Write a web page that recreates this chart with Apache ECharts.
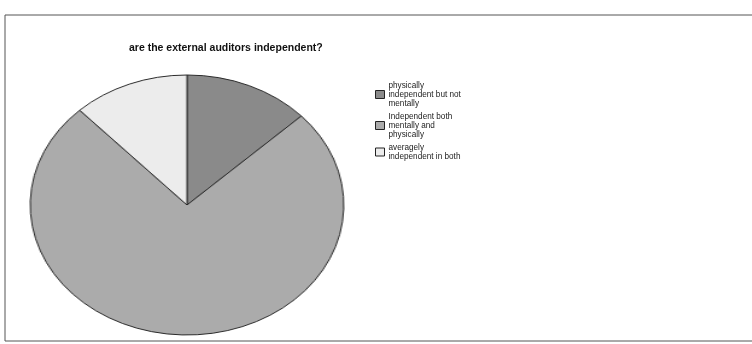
<!DOCTYPE html>
<html>
<head>
<meta charset="utf-8">
<script src="https://cdn.jsdelivr.net/npm/echarts@6/dist/echarts.min.js"></script>
<style>
html,body{margin:0;padding:0;background:#fff;}
#wrap{position:relative;width:752px;height:344px;overflow:hidden;}
#pie{position:absolute;left:56px;top:74px;width:262px;height:262px;transform:scaleX(1.206);transform-origin:50% 50%;}
#main{position:absolute;left:0;top:0;width:752px;height:344px;}
</style>
</head>
<body>
<div id="wrap">
<div id="main"></div>
<div id="pie"></div>
</div>
<script>
const titleText = 'are the external auditors independent?';
const categories = [
  'physically\nindependent but not\nmentally',
  'Independent both\nmentally and\nphysically',
  'averagely\nindependent in both'
];
const values = [13, 75, 12];
const colors = ['#8a8a8a', '#ababab', '#ececec'];

const data = categories.map((c, i) => ({ name: c, value: values[i], itemStyle: { color: colors[i] } }));

const pieChart = echarts.init(document.getElementById('pie'), null, { renderer: 'canvas' });
pieChart.setOption({
  animation: false,
  series: [{
    type: 'pie',
    center: ['50%', '50%'],
    radius: 130,
    startAngle: 90,
    clockwise: true,
    label: { show: false },
    labelLine: { show: false },
    emphasis: { disabled: true },
    itemStyle: { borderColor: '#2a2a2a', borderWidth: 1 },
    data: data
  }]
});

const mainChart = echarts.init(document.getElementById('main'), null, { renderer: 'canvas' });
mainChart.setOption({
  animation: false,
  title: {
    text: titleText,
    left: 124,
    top: 38,
    textStyle: { fontFamily: 'Liberation Sans, Arial, sans-serif', fontSize: 10.5, fontWeight: 'bold', color: '#111' }
  },
  legend: {
    orient: 'vertical',
    left: 370,
    top: 76,
    itemWidth: 9,
    itemHeight: 8,
    itemGap: 4,
    icon: 'rect',
    textStyle: { fontFamily: 'Liberation Sans, Arial, sans-serif', fontSize: 8.2, lineHeight: 9, color: '#222', padding: [0, 0, 0, -1] },
    itemStyle: { borderColor: '#222', borderWidth: 1 },
    data: categories
  },
  graphic: [{
    type: 'polyline',
    shape: { points: [[760, 15], [5, 15], [5, 341], [760, 341]] },
    style: { stroke: '#555', lineWidth: 1, fill: null }
  }],
  series: [{
    type: 'pie',
    radius: [0, 0],
    center: [-100, -100],
    silent: true,
    label: { show: false },
    labelLine: { show: false },
    data: data
  }]
});
</script>
</body>
</html>
